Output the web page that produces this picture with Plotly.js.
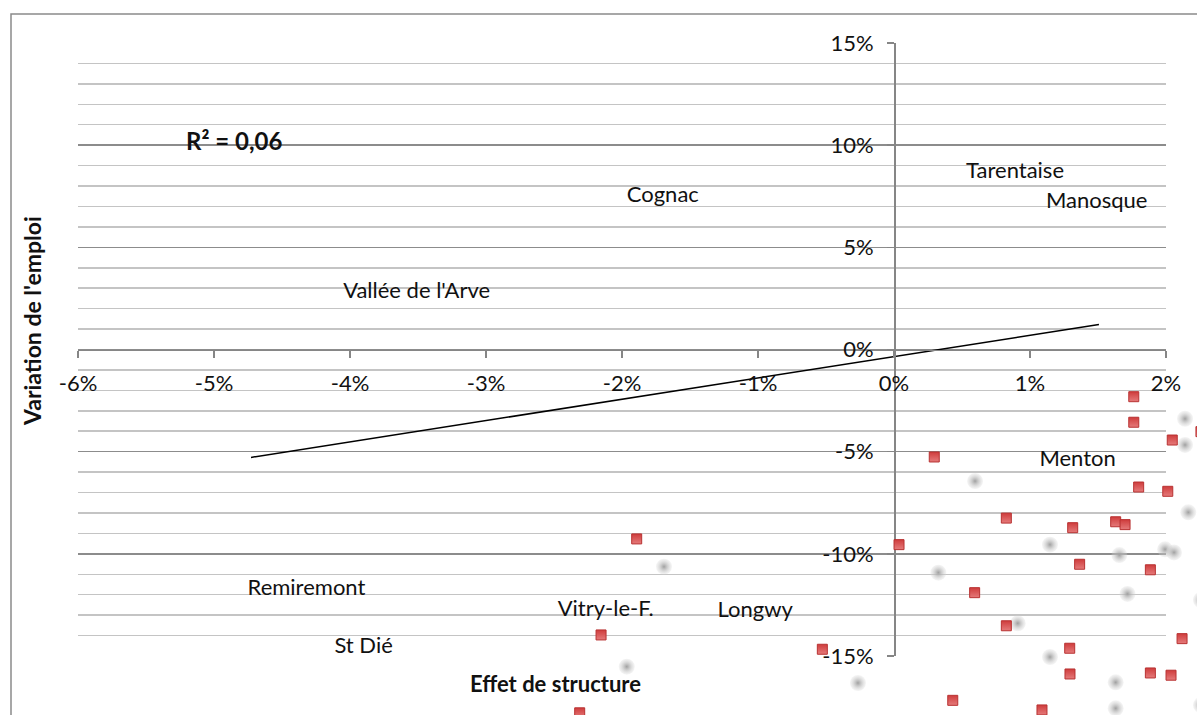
<!DOCTYPE html>
<html>
<head>
<meta charset="utf-8">
<script src="https://cdn.plot.ly/plotly-3.0.1.min.js"></script>
<style>html,body{margin:0;padding:0;background:#fff;}#chart{width:1197px;height:715px;}</style>
</head>
<body>
<div id="chart"></div>
<script>
// Region labels (text only)
const labelNames = ["Tarentaise","Manosque","Cognac","Vallée de l'Arve","Menton","Remiremont","Vitry-le-F.","Longwy","St Dié"];
const labelX = [0.0089, 0.0149, -0.0170, -0.0351, 0.0135, -0.0432, -0.0212, -0.0102, -0.0390];
const labelY = [0.0865, 0.0720, 0.0747, 0.0278, -0.0545, -0.1175, -0.1275, -0.1280, -0.1460];

// Red square markers
const redX = [0.01763,0.01763,0.02046,0.02257,0.00296,0.00037,0.01799,0.02013,0.00826,0.01314,0.01630,0.01699,0.01365,0.01885,0.00593,0.00826,0.02118,0.01292,-0.00527,0.01294,0.01885,0.02037,0.00432,0.01088,-0.01892,-0.02154,-0.02311];
const redY = [-0.0231,-0.0356,-0.0443,-0.0402,-0.0526,-0.0955,-0.0673,-0.0694,-0.0825,-0.0872,-0.0843,-0.0857,-0.1051,-0.1078,-0.1190,-0.1352,-0.1415,-0.1462,-0.1467,-0.1588,-0.1583,-0.1594,-0.1717,-0.1764,-0.0927,-0.1397,-0.1778];

// Grey blurred markers
const greyX = [0.02140,0.02140,0.00596,0.02164,0.01147,0.01657,0.01993,0.02059,0.00326,0.01717,0.02257,0.00910,0.01147,-0.00265,0.01630,0.01630,0.02257,-0.01691,-0.01965];
const greyY = [-0.0339,-0.0467,-0.0644,-0.0797,-0.0955,-0.1006,-0.0978,-0.0993,-0.1092,-0.1196,-0.1226,-0.1340,-0.1505,-0.1632,-0.1629,-0.1756,-0.1740,-0.1063,-0.1552];

// Linear trend line endpoints
const trendX = [-0.04728, 0.01507];
const trendY = [-0.0528, 0.0122];

// Axis ticks
const xTickVals = [-0.06,-0.05,-0.04,-0.03,-0.02,-0.01,0,0.01,0.02];
const xTickText = ["-6%","-5%","-4%","-3%","-2%","-1%","0%","1%","2%"];
const yTickVals = [-0.15,-0.10,-0.05,0,0.05,0.10,0.15];
const yTickText = ["-15%","-10%","-5%","0%","5%","10%","15%"];

const FONT = "Lato, 'Open Sans', sans-serif";

// Figure geometry (pixels)
const W = 1197, H = 715;
const PL = 78, PR = 1166, PT = 43, PB = 656;
const XMIN = -0.06, XMAX = 0.02, YMIN = -0.15, YMAX = 0.15;
const kx = (XMAX - XMIN) / (PR - PL);   // data per px
const ky = (YMAX - YMIN) / (PB - PT);
// second subplot covering the whole figure with the same scale
const x2range = [XMIN - PL * kx, XMAX + (W - PR) * kx];
const y2range = [YMIN - (H - PB) * ky, YMAX + PT * ky];

const traces = [
  {
    x: labelX, y: labelY, text: labelNames, type: 'scatter', mode: 'text', cliponaxis: false,
    textposition: 'middle center', textfont: {family: FONT, size: 22, color: '#111'}, hoverinfo: 'skip'
  },
  {
    x: trendX, y: trendY, type: 'scatter', mode: 'lines', cliponaxis: false,
    line: {color: '#000', width: 1.5}
  },
  {
    x: greyX, y: greyY, type: 'scatter', mode: 'markers', cliponaxis: true, hoverinfo: 'skip',
    xaxis: 'x2', yaxis: 'y2',
    marker: {symbol: 'circle', size: 16, color: 'rgba(215,215,215,0.25)',
             gradient: {type: 'radial', color: 'rgba(160,160,160,1)'}, line: {width: 0}}
  },
  {
    x: redX, y: redY, type: 'scatter', mode: 'markers', cliponaxis: true,
    xaxis: 'x2', yaxis: 'y2',
    marker: {symbol: 'square', size: 10, color: '#cf3c3c',
             gradient: {type: 'vertical', color: '#e57b7b'},
             line: {width: 1, color: '#b83232'}}
  }
];

const tickFont = {family: FONT, size: 22, color: '#111'};

const layout = {
  width: W, height: H,
  margin: {l: 0, r: 0, t: 0, b: 0, pad: 0},
  paper_bgcolor: '#fff', plot_bgcolor: 'rgba(0,0,0,0)',
  showlegend: false,
  font: {family: FONT, color: '#111'},
  xaxis: {
    domain: [PL / W, PR / W],
    range: [XMIN, XMAX], anchor: 'free', position: (H - (PB + PT) / 2) / H,
    tickmode: 'array', tickvals: xTickVals, ticktext: xTickText,
    showgrid: false, zeroline: false,
    showline: true, linecolor: '#868686', linewidth: 1.5,
    ticks: 'outside', ticklen: 7, tickcolor: '#868686', tickwidth: 1.5,
    tickfont: tickFont, ticklabelstandoff: 7
  },
  yaxis: {
    domain: [(H - PB) / H, (H - PT) / H],
    range: [YMIN, YMAX], anchor: 'free', position: (PL + (0 - XMIN) / kx) / W,
    tickmode: 'array', tickvals: yTickVals, ticktext: yTickText,
    showgrid: true, gridcolor: '#8c8c8c', gridwidth: 1.5,
    minor: {tickmode: 'linear', tick0: 0, dtick: 0.01, showgrid: true, gridcolor: '#c4c4c4', gridwidth: 1.5, ticks: ''},
    zeroline: false,
    showline: true, linecolor: '#868686', linewidth: 1.5,
    ticks: 'outside', ticklen: 7, tickcolor: '#868686', tickwidth: 1.5,
    tickfont: tickFont, ticklabelstandoff: 9
  },
  xaxis2: {domain: [0, 1], range: x2range, anchor: 'y2', visible: false, showgrid: false, zeroline: false},
  yaxis2: {domain: [0, 1], range: y2range, anchor: 'x2', visible: false, showgrid: false, zeroline: false},
  shapes: [
    {type: 'rect', xref: 'paper', yref: 'paper', x0: 11 / W, x1: 1.2, y0: -0.3, y1: (H - 14) / H,
     line: {color: '#8a8a8a', width: 1.5}, fillcolor: 'rgba(0,0,0,0)', layer: 'below'}
  ],
  annotations: [
    {text: '<b>R² = 0,06</b>', xref: 'paper', yref: 'paper', x: 234 / W, y: (H - 140) / H,
     xanchor: 'center', yanchor: 'middle',
     showarrow: false, font: {family: FONT, size: 24, color: '#111'}},
    {text: '<b>Effet de structure</b>', xref: 'paper', yref: 'paper', x: 555 / W, y: (H - 683) / H,
     xanchor: 'center', yanchor: 'middle',
     showarrow: false, font: {family: FONT, size: 22, color: '#111'}},
    {text: "<b>Variation de l'emploi</b>", xref: 'paper', yref: 'paper', x: 32 / W, y: (H - 321) / H,
     xanchor: 'center', yanchor: 'middle',
     textangle: -90, showarrow: false, font: {family: FONT, size: 23, color: '#111'}}
  ]
};

Plotly.newPlot('chart', traces, layout, {displayModeBar: false, staticPlot: true});
</script>
</body>
</html>
